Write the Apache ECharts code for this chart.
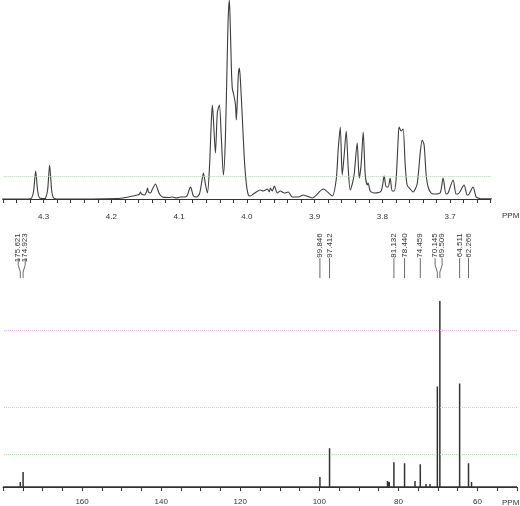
<!DOCTYPE html>
<html>
<head>
<meta charset="utf-8">
<script src="https://cdn.jsdelivr.net/npm/echarts@6/dist/echarts.min.js"></script>
<style>
html,body{margin:0;padding:0;background:#fff;}
#chart{width:520px;height:506px;}
</style>
</head>
<body>
<div id="chart"></div>
<script>
// ---------- 1H spectrum (top): ppm / intensity ----------
const H_PPM = [4.3634,4.3221,4.3177,4.3148,4.3118,4.3088,4.3059,4.2985,4.2971,4.2941,4.2912,4.2882,4.2853,4.2779,
  4.1909,4.1791,4.1688,4.1614,4.1585,4.1570,4.1555,4.1511,4.1482,4.1467,4.1452,4.1423,4.1393,4.1349,4.1319,4.1290,4.1246,
  4.1157,4.1098,4.1039,4.0980,4.0907,4.0877,4.0848,4.0833,4.0818,4.0789,4.0744,4.0700,4.0671,4.0641,4.0612,4.0582,
  4.0553,4.0523,4.0509,4.0494,4.0464,4.0435,4.0405,4.0376,4.0346,4.0317,4.0287,4.0273,4.0258,4.0243,4.0228,4.0214,4.0199,
  4.0169,4.0155,4.0140,4.0125,4.0110,4.0096,4.0066,4.0037,4.0007,3.9978,3.9948,3.9904,3.9860,
  3.9801,3.9757,3.9698,3.9668,3.9653,3.9624,3.9594,3.9550,3.9506,3.9447,3.9388,3.9329,3.9241,3.9167,3.9034,3.8872,3.8739,
  3.8680,3.8651,3.8621,3.8592,3.8562,3.8533,3.8503,3.8474,3.8444,3.8415,3.8371,3.8341,3.8312,3.8282,3.8253,3.8223,3.8209,3.8179,3.8120,
  3.8017,3.7973,3.7943,3.7914,3.7884,3.7855,3.7825,3.7796,3.7766,3.7752,3.7722,3.7693,3.7663,3.7634,3.7589,3.7545,
  3.7486,3.7442,3.7412,3.7383,3.7354,3.7324,3.7280,3.7236,3.7147,3.7103,3.7059,3.7029,3.6955,3.6911,3.6882,3.6793,3.6749,3.6734,
  3.6661,3.6616,3.6587,3.6557,3.5997];
const H_INT = [0,0,1,8,28,8,1,0.5,1,9,34,9,1,0,
  0.5,1.5,3,4,5,7,5,4,7,11,7,6,10,15,10,5,2,
  1.5,2,1,2,2,4,10,12,10,3,2,5,15,26,15,6,
  30,80,94,80,46,87,94,60,24,60,150,185,199,170,130,110,106,
  95,79,100,125,131,120,80,40,15,4,3,5,7,
  9,8,10,7,11,8,13,6,8,6,7,2,2,4,1,10,3,
  20,50,72,24,45,68,30,9,15,25,56,21,35,67,25,14,16,8,6,
  8,23,12,12,21,8,8,20,60,72,68,70,35,14,10,7,
  15,45,59,54,25,12,6,5,6,21,5,6,19,5,5,14,4,4,
  12,2,1,0.5,0];
const H_TICK_LABELS = ['4.3','4.2','4.1','4.0','3.9','3.8','3.7'];
const H_LEVEL = [23];

// ---------- 13C spectrum (bottom) ----------
const C_PPM = [175.621,174.923,99.846,97.412,81.132,78.440,74.459,70.145,69.509,64.511,62.266];
const C_INT = [5,15,10,39,25,24,23,101,187,104,24];
const C_LABELS = ['175.621','174.923','99.846','97.412','81.132','78.440','74.459','70.145','69.509','64.511','62.266'];
const C_SMALL_PPM = [82.75,82.3,75.8,73.0,72.0,67.3,61.5];
const C_SMALL_INT = [6,5,6,3,3,2,5];
const C_TICK_LABELS = ['160','140','120','100','80','60'];
const C_LEVELS = [158,80,33];
const C_LEVEL_COLORS = ['#e9b9e9','#b5dcb5','#b5dcb5'];

// ---------- build ----------
const hData = H_PPM.map((p,i)=>[p,H_INT[i]]);
const allC = C_PPM.map((p,i)=>[p,C_INT[i]]).concat(C_SMALL_PPM.map((p,i)=>[p,C_SMALL_INT[i]]))
  .sort((a,b)=>b[0]-a[0]);
const cData = [[180,0]];
allC.forEach(([p,h])=>{cData.push([p,0],[p,h],[p,0]);});
cData.push([50,0]);

const FONT = 'Liberation Sans, Arial, sans-serif';
const MIN_GAP = 7;

function labelRender(params, api){
  const i = params.dataIndex;
  const xs = C_PPM.map(p=>api.coord([p,0])[0]);
  // group close peaks and spread their labels
  const order = xs.map((x,k)=>k).sort((a,b)=>xs[a]-xs[b]);
  const lx = xs.slice();
  let g = [order[0]];
  const groups = [];
  for (let k=1;k<order.length;k++){
    if (xs[order[k]]-xs[order[k-1]] < MIN_GAP) g.push(order[k]);
    else {groups.push(g); g=[order[k]];}
  }
  groups.push(g);
  groups.forEach(gr=>{
    if (gr.length<2) return;
    const c = gr.reduce((s,k)=>s+xs[k],0)/gr.length;
    gr.forEach((k,j)=>{lx[k] = c + (j-(gr.length-1)/2)*MIN_GAP;});
  });
  const px = xs[i], tx = lx[i];
  const yText = api.coord([0,255])[1];
  const y1 = api.coord([0,230])[1];
  const y2 = api.coord([0,223])[1];
  const y3 = api.coord([0,216])[1];
  const y4 = api.coord([0,210])[1];
  let pts;
  if (Math.abs(px-tx)<0.5) pts = [[px,y1],[px,y4]];
  else pts = [[tx,y1],[tx,y2],[px,y3],[px,y4]];
  return {type:'group', children:[
    {type:'text', x: tx, y: yText, rotation: Math.PI/2,
     style:{text:C_LABELS[i], fill:'#333', font:'8px '+FONT, align:'right', verticalAlign:'middle'}},
    {type:'polyline', shape:{points:pts}, style:{stroke:'#6a6a6a', lineWidth:1, fill:null}}
  ]};
}

const axisCommon = {
  type:'value', inverse:true,
  splitLine:{show:false},
  axisLine:{show:true, lineStyle:{color:'#333', width:1}},
  axisTick:{show:true, length:4, lineStyle:{color:'#333'}},
  showMinLabel:true, showMaxLabel:true
};

const option = {
  animation:false,
  backgroundColor:'#fff',
  grid:[
    {left:2.3, right:29.3, top:0, bottom:298},
    {left:0, right:0, top:288, bottom:11}
  ],
  xAxis:[
    Object.assign({}, axisCommon, {gridIndex:0, min:3.64, max:4.36, interval:0.02,
      axisLabel:{margin:5, fontSize:8, fontFamily:FONT, color:'#333',
        formatter:v=>{const s=v.toFixed(1); return (H_TICK_LABELS.includes(s)&&Math.abs(v-parseFloat(s))<1e-6)?s:'';}}}),
    Object.assign({}, axisCommon, {gridIndex:1, min:50, max:180, interval:5,
      axisLabel:{margin:4, fontSize:8, fontFamily:FONT, color:'#333',
        formatter:v=>{const s=String(Math.round(v)); return C_TICK_LABELS.includes(s)?s:'';}}})
  ],
  yAxis:[
    {type:'value', gridIndex:0, min:-9, max:199, show:false},
    {type:'value', gridIndex:1, min:-7, max:200, show:false}
  ],
  series:[
    {type:'line', xAxisIndex:0, yAxisIndex:0, data:hData, symbol:'none', clip:false,
     smooth:0.25,
     lineStyle:{color:'#3c3c3c', width:1.1}, silent:true,
     markLine:{symbol:'none', silent:true, label:{show:false},
       lineStyle:{type:'dotted', color:'#b3cdb3', width:1},
       data:H_LEVEL.map(v=>({yAxis:v}))}},
    {type:'line', xAxisIndex:1, yAxisIndex:1, data:cData, symbol:'none', clip:false,
     lineStyle:{color:'#333', width:1.5}, silent:true,
     markLine:{symbol:'none', silent:true, label:{show:false},
       data:C_LEVELS.map((v,i)=>({yAxis:v, lineStyle:{type:'dotted', color:C_LEVEL_COLORS[i], width:1}}))}},
    {type:'custom', xAxisIndex:1, yAxisIndex:1, clip:false, silent:true,
     data:C_PPM.map(p=>[p,0]), renderItem:labelRender}
  ],
  graphic:[
    {type:'text', left:502, top:212, style:{text:'PPM', fill:'#333', font:'8px '+FONT}},
    {type:'text', left:502, top:499, style:{text:'PPM', fill:'#333', font:'8px '+FONT}}
  ]
};

const chart = echarts.init(document.getElementById('chart'), null, {renderer:'canvas'});
chart.setOption(option);
</script>
</body>
</html>
